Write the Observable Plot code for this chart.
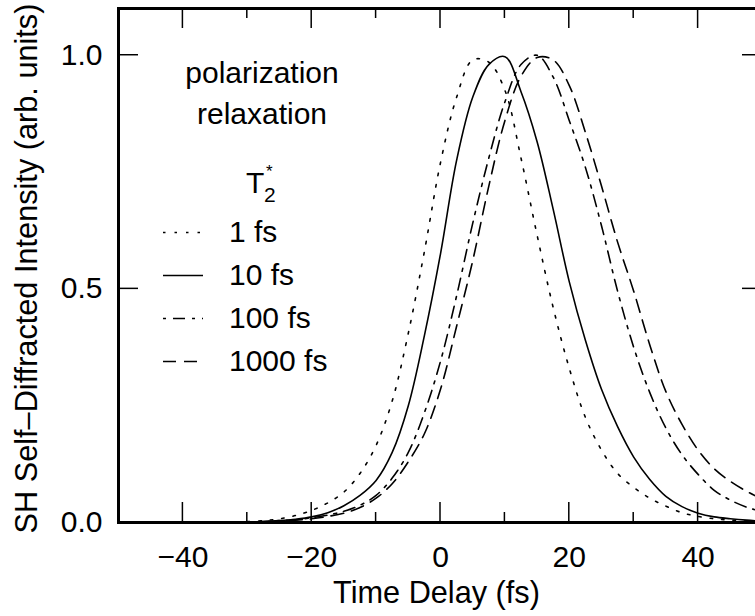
<!DOCTYPE html>
<html><head><meta charset="utf-8">
<script src="https://cdn.jsdelivr.net/npm/d3@7"></script>
<script src="https://cdn.jsdelivr.net/npm/@observablehq/plot@0.6"></script>
<style>
html,body{margin:0;padding:0;background:#fff;overflow:hidden}
#chart{position:relative;width:755px;height:616px;overflow:hidden}
#overlay{position:absolute;left:0;top:0;width:755px;height:616px;pointer-events:none;z-index:2;overflow:hidden}
</style></head><body><div id="chart"></div>
<script>
// ---- data ----
const timeDelay = [-30,-27.5,-25,-22.5,-20,-17.5,-15,-12.5,-10,-7.5,-5,-2.5,0,2.5,5,7.5,10,12.5,15,17.5,20,22.5,25,27.5,30,32.5,35,37.5,40,42.5,45,47.5,50];
const t2_1fs    = [0.002,0.004,0.008,0.015,0.026,0.042,0.065,0.105,0.165,0.26,0.405,0.58,0.77,0.91,0.99,0.985,0.925,0.78,0.615,0.46,0.33,0.225,0.155,0.105,0.075,0.052,0.035,0.021,0.013,0.008,0.005,0.003,0.002];
const t2_10fs   = [0.001,0.002,0.004,0.007,0.012,0.021,0.036,0.058,0.09,0.15,0.25,0.40,0.575,0.775,0.91,0.98,0.997,0.922,0.815,0.67,0.515,0.39,0.285,0.205,0.14,0.092,0.056,0.034,0.02,0.012,0.008,0.005,0.003];
const t2_100fs  = [0.001,0.002,0.004,0.006,0.010,0.016,0.024,0.037,0.058,0.095,0.15,0.235,0.345,0.485,0.64,0.78,0.90,0.98,1.0,0.953,0.86,0.76,0.635,0.495,0.375,0.278,0.202,0.145,0.103,0.069,0.048,0.033,0.023];
const t2_1000fs = [0.001,0.002,0.003,0.005,0.008,0.013,0.02,0.032,0.052,0.083,0.13,0.19,0.285,0.42,0.56,0.72,0.86,0.955,0.995,0.99,0.935,0.835,0.72,0.60,0.495,0.38,0.28,0.21,0.155,0.115,0.088,0.067,0.05];
const seriesNames = ["1 fs","10 fs","100 fs","1000 fs"];
const seriesValues = [t2_1fs, t2_10fs, t2_100fs, t2_1000fs];
const xMajorTicks = [-40,-20,0,20,40];
const xMinorTicks = [-30,-10,10,30];
const yTicks = [0,0.5,1.0];
const xLabel = "Time Delay (fs)";
const yLabel = "SH Self\u2013Diffracted Intensity (arb. units)";
const legendTitle = ["polarization","relaxation"];

// ---- layout & styles ----
const W = 755, H = 616, mL = 118, mR = -7, mT = 8, mB = 94;
const majorLen = 20, minorLen = 10;
const dashes = ["2.5,9", null, "3,7,12,7", "13,8"];

const rows = seriesNames.map((s, k) => timeDelay.map((t, i) => ({series: s, t, v: seriesValues[k][i]})));

const font = "'Liberation Sans', Arial, Helvetica, sans-serif";

const plot = Plot.plot({
  width: W, height: H,
  marginLeft: mL, marginRight: mR, marginTop: mT, marginBottom: mB,
  x: {domain: [-50, 50]},
  y: {domain: [0, 1.1]},
  style: {fontFamily: font, fontSize: "30px", color: "#000", background: "#fff", overflow: "hidden"},
  marks: [
    ...rows.map((r, k) => Plot.line(r, {x: "t", y: "v", stroke: "#000", strokeWidth: 1.6,
        strokeDasharray: dashes[k] ?? undefined, curve: "catmull-rom", clip: "frame"})),
    Plot.axisX({ticks: xMajorTicks, tickSize: 0, tickPadding: 23, tickFormat: d3.format("d"), fontSize: 30, label: null}),
    Plot.axisY({ticks: yTicks, tickSize: 0, tickPadding: 16, tickFormat: d3.format(".1f"), fontSize: 30, label: null}),
    Plot.frame({strokeWidth: 3}),
    Plot.text([xLabel], {frameAnchor: "bottom", textAnchor: "middle", lineAnchor: "middle", dy: 71, dx: -4, text: d => d, fontSize: 30.7}),
    Plot.text([yLabel], {frameAnchor: "left", textAnchor: "middle", lineAnchor: "middle", rotate: -90, dx: -91, dy: 3, text: d => d, fontSize: 30.7})
  ]
});
const chartDiv = document.getElementById("chart");
chartDiv.appendChild(plot);

const svgSel = d3.select(plot);
const frameLeft = mL, frameRight = W - mR, frameTop = mT, frameBottom = H - mB;

// ---- in-plot legend ----
const legendGroup = svgSel.append("g").attr("font-family", font).attr("fill", "#000").attr("text-anchor", "start");
legendGroup.selectAll("text.title").data(legendTitle).join("text")
  .attr("class", "title").attr("x", 262).attr("y", (d, i) => 83 + i * 41)
  .attr("text-anchor", "middle").attr("font-size", 30).text(d => d);
legendGroup.append("text").attr("x", 246).attr("y", 193).attr("font-size", 30).text("T");
legendGroup.append("text").attr("x", 264).attr("y", 202).attr("font-size", 21).text("2");
legendGroup.append("text").attr("x", 266).attr("y", 177).attr("font-size", 17).text("*");
seriesNames.forEach((s, k) => {
  const base = 242 + k * 43;
  legendGroup.append("line").attr("x1", 163).attr("x2", 203).attr("y1", base - 9.5).attr("y2", base - 9.5)
    .attr("stroke", "#000").attr("stroke-width", 1.6).attr("stroke-dasharray", dashes[k]);
  legendGroup.append("text").attr("x", 229).attr("y", base).attr("font-size", 30).text(s);
});

// ---- inward ticks on all four sides (overlay), placed through Plot's scales ----
try {
  const posOf = (name, v) => {
    const s = plot.scale(name);
    let p = s && s.apply ? s.apply(v) : NaN;
    if (!Number.isFinite(p)) p = d3.scaleLinear(s.domain, s.range)(v);
    return p;
  };
  const overlay = d3.select(chartDiv).append("svg").attr("id", "overlay")
    .attr("width", W).attr("height", H).attr("viewBox", `0 0 ${W} ${H}`);
  const tickGroup = overlay.append("g").attr("stroke", "#000").attr("stroke-width", 1.5).attr("fill", "none");
  const xTickSet = [...xMajorTicks.map(v => [v, majorLen]), ...xMinorTicks.map(v => [v, minorLen])];
  xTickSet.forEach(([v, len]) => {
    const px = posOf("x", v);
    tickGroup.append("path").attr("d", `M${px},${frameBottom}V${frameBottom - len}`);
    tickGroup.append("path").attr("d", `M${px},${frameTop}V${frameTop + len}`);
  });
  yTicks.forEach(v => {
    const py = posOf("y", v);
    tickGroup.append("path").attr("d", `M${frameLeft},${py}H${frameLeft + majorLen}`);
    tickGroup.append("path").attr("d", `M${frameRight},${py}H${frameRight - majorLen}`);
  });
} catch (e) { /* ticks are decoration only */ }
</script></body></html>
